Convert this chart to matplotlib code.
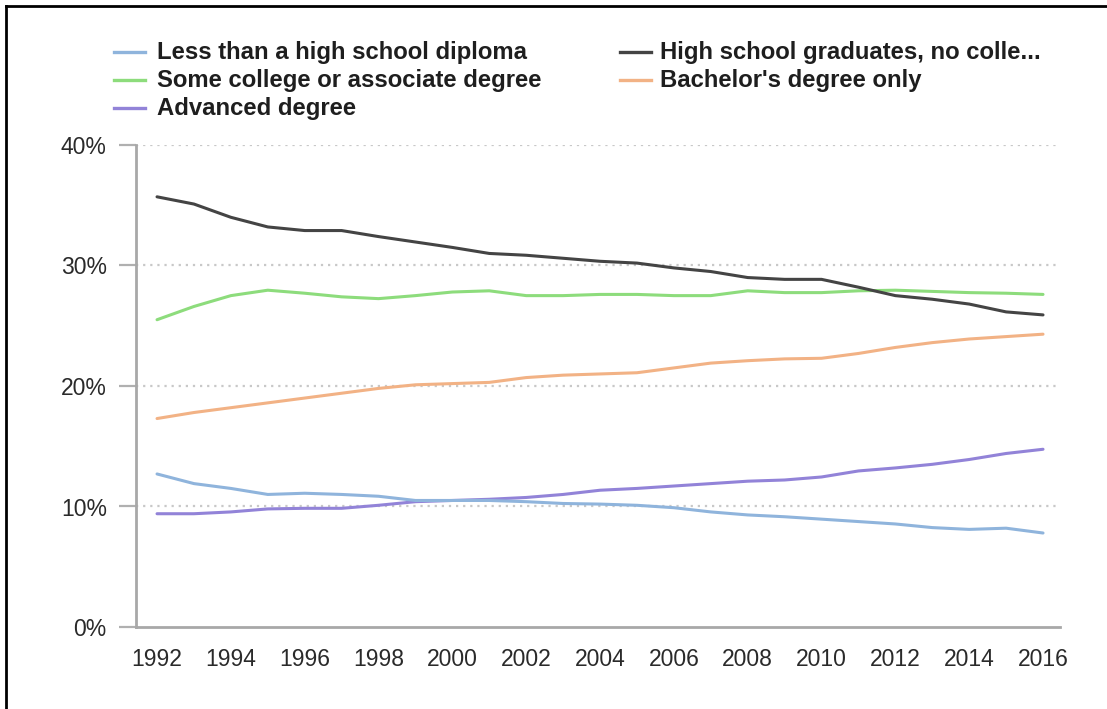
import matplotlib
matplotlib.use("Agg")
import matplotlib.pyplot as plt
from matplotlib.lines import Line2D

years = list(range(1992, 2017))

less_than_hs = [12.7, 11.9, 11.5, 11.0, 11.1, 11.0, 10.85, 10.5, 10.5, 10.5, 10.4, 10.25,
                10.2, 10.1, 9.9, 9.55, 9.3, 9.15, 8.95, 8.75, 8.55, 8.25, 8.1, 8.2, 7.8]
hs_grads = [35.7, 35.1, 34.0, 33.2, 32.9, 32.9, 32.4, 31.95, 31.5, 31.0, 30.85, 30.6,
            30.35, 30.2, 29.8, 29.5, 29.0, 28.85, 28.85, 28.2, 27.5, 27.2, 26.8, 26.15, 25.9]
some_college = [25.5, 26.6, 27.5, 27.95, 27.7, 27.4, 27.25, 27.5, 27.8, 27.9, 27.5, 27.5,
                27.6, 27.6, 27.5, 27.5, 27.9, 27.75, 27.75, 27.9, 27.95, 27.85, 27.75, 27.7, 27.6]
bachelors = [17.3, 17.8, 18.2, 18.6, 19.0, 19.4, 19.8, 20.1, 20.2, 20.3, 20.7, 20.9,
             21.0, 21.1, 21.5, 21.9, 22.1, 22.25, 22.3, 22.7, 23.2, 23.6, 23.9, 24.1, 24.3]
advanced = [9.4, 9.4, 9.55, 9.8, 9.85, 9.85, 10.1, 10.4, 10.5, 10.6, 10.75, 11.0,
            11.35, 11.5, 11.7, 11.9, 12.1, 12.2, 12.45, 12.95, 13.2, 13.5, 13.9, 14.4, 14.75]

series_names = ["Less than a high school diploma", "High school graduates, no colle...",
                "Some college or associate degree", "Bachelor's degree only",
                "Advanced degree"]
series_values = [less_than_hs, hs_grads, some_college, bachelors, advanced]
series_colors = ["#8fb4dc", "#444444", "#8ddc7c", "#f2b285", "#9283d8"]

y_ticks = [0, 10, 20, 30, 40]
x_ticks = list(range(1992, 2017, 2))

plt.rcParams["font.family"] = ["Liberation Sans", "DejaVu Sans"]

fig = plt.figure(figsize=(11.07, 7.09), dpi=100)
fig.patch.set_facecolor("white")

ax = fig.add_axes([136 / 1107, 82 / 709, (1060 - 136) / 1107, (627 - 145) / 709])
ax.set_xlim(1991.43, 2016.46)
ax.set_ylim(0, 40)

for y in y_ticks[1:]:
    ax.axhline(y, color="#c8c8c8", lw=1.6, ls=(0, (1, 2.2)), zorder=1)

# draw the lower series first so the darker lines sit on top
order = [4, 0, 3, 2, 1]
for i in order:
    ax.plot(years, series_values[i], color=series_colors[i], lw=2.2, zorder=3,
            solid_capstyle="round", solid_joinstyle="round")

for side in ["top", "right"]:
    ax.spines[side].set_visible(False)
for side in ["left", "bottom"]:
    ax.spines[side].set_color("#a8a8a8")
    ax.spines[side].set_linewidth(2.0)

ax.set_yticks(y_ticks)
ax.set_yticklabels([f"{v}%" for v in y_ticks])
ax.set_xticks(x_ticks)
ax.set_xticklabels([str(v) for v in x_ticks])
ax.tick_params(axis="y", length=12, width=1.6, color="#b0b0b0", pad=9,
               labelsize=16.5, labelcolor="#2a2a2a")
ax.tick_params(axis="x", length=0, pad=15, labelsize=16.5, labelcolor="#2a2a2a")

# legend, laid out row by row in two columns
W, H = 1107, 709
rows_y = [52, 80, 108]
col_line_x = [(114, 145), (620, 651)]
col_text_x = [157, 660]
for k, (name, color) in enumerate(zip(series_names, series_colors)):
    r, c = divmod(k, 2)
    yy = 1 - rows_y[r] / H
    x0, x1 = col_line_x[c]
    fig.add_artist(Line2D([x0 / W, x1 / W], [yy, yy], color=color, lw=2.4,
                          transform=fig.transFigure))
    fig.text(col_text_x[c] / W, yy, name, fontsize=17.2, fontweight="bold",
             color="#1e1e1e", va="center", ha="left")

# frame edges along the top and left
fig.add_artist(Line2D([6 / W, 6 / W], [0, 1 - 6 / H], color="black", lw=2.0,
                      transform=fig.transFigure))
fig.add_artist(Line2D([6 / W, 1], [1 - 6 / H, 1 - 6 / H], color="black", lw=2.0,
                      transform=fig.transFigure))

fig.savefig("out.png", dpi=100, facecolor="white")
